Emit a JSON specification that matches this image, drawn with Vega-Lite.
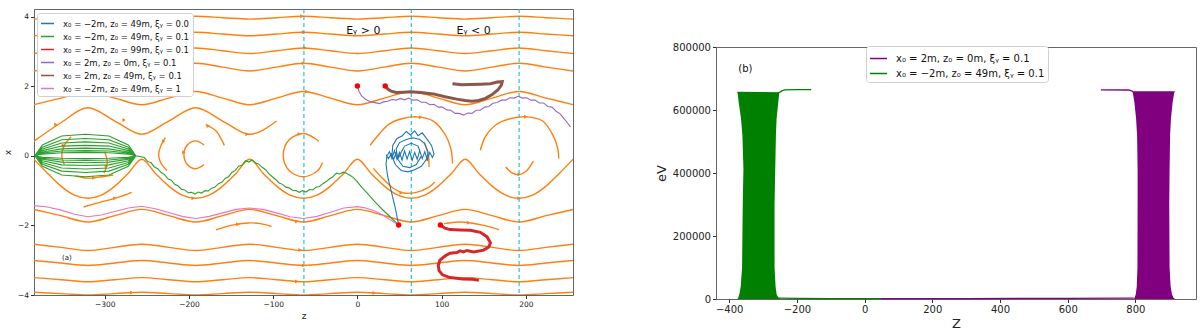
{
"$schema": "https://vega.github.io/schema/vega-lite/v6.json",
"padding": {"left": 2, "top": 7, "right": 5, "bottom": 0},
"spacing": 80,
"config": {
 "font": "DejaVu Sans",
 "view": {"stroke": "#666", "strokeWidth": 1},
 "axis": {"grid": false, "domain": false, "tickColor": "#333", "tickSize": 3.5, "labelColor": "#222", "titleColor": "#222", "titleFontWeight": "normal", "labelPadding": 2}
},
"resolve": {"scale": {"color": "independent"}, "legend": {"color": "independent"}},
"datasets": {
 "wav": [
  {"g":"U1","z":-384,"x":3.93},{"g":"U1","z":-352,"x":3.97},{"g":"U1","z":-320,"x":4.01},{"g":"U1","z":-288,"x":3.97},{"g":"U1","z":-256,"x":3.93},{"g":"U1","z":-224,"x":3.97},{"g":"U1","z":-192,"x":4.01},{"g":"U1","z":-160,"x":3.97},{"g":"U1","z":-128,"x":3.93},{"g":"U1","z":-96,"x":3.97},{"g":"U1","z":-64,"x":4.01},{"g":"U1","z":-32,"x":3.97},{"g":"U1","z":0,"x":3.93},{"g":"U1","z":32,"x":3.97},{"g":"U1","z":64,"x":4.01},{"g":"U1","z":96,"x":3.97},{"g":"U1","z":128,"x":3.93},{"g":"U1","z":160,"x":3.97},{"g":"U1","z":192,"x":4.01},{"g":"U1","z":224,"x":3.97},{"g":"U1","z":256,"x":3.93},
  {"g":"U2","z":-384,"x":3.45},{"g":"U2","z":-352,"x":3.5},{"g":"U2","z":-320,"x":3.55},{"g":"U2","z":-288,"x":3.5},{"g":"U2","z":-256,"x":3.45},{"g":"U2","z":-224,"x":3.5},{"g":"U2","z":-192,"x":3.55},{"g":"U2","z":-160,"x":3.5},{"g":"U2","z":-128,"x":3.45},{"g":"U2","z":-96,"x":3.5},{"g":"U2","z":-64,"x":3.55},{"g":"U2","z":-32,"x":3.5},{"g":"U2","z":0,"x":3.45},{"g":"U2","z":32,"x":3.5},{"g":"U2","z":64,"x":3.55},{"g":"U2","z":96,"x":3.5},{"g":"U2","z":128,"x":3.45},{"g":"U2","z":160,"x":3.5},{"g":"U2","z":192,"x":3.55},{"g":"U2","z":224,"x":3.5},{"g":"U2","z":256,"x":3.45},
  {"g":"U3","z":-384,"x":2.94},{"g":"U3","z":-352,"x":3.02},{"g":"U3","z":-320,"x":3.1},{"g":"U3","z":-288,"x":3.02},{"g":"U3","z":-256,"x":2.94},{"g":"U3","z":-224,"x":3.02},{"g":"U3","z":-192,"x":3.1},{"g":"U3","z":-160,"x":3.02},{"g":"U3","z":-128,"x":2.94},{"g":"U3","z":-96,"x":3.02},{"g":"U3","z":-64,"x":3.1},{"g":"U3","z":-32,"x":3.02},{"g":"U3","z":0,"x":2.94},{"g":"U3","z":32,"x":3.02},{"g":"U3","z":64,"x":3.1},{"g":"U3","z":96,"x":3.02},{"g":"U3","z":128,"x":2.94},{"g":"U3","z":160,"x":3.02},{"g":"U3","z":192,"x":3.1},{"g":"U3","z":224,"x":3.02},{"g":"U3","z":256,"x":2.94},
  {"g":"U4","z":-384,"x":2.44},{"g":"U4","z":-352,"x":2.55},{"g":"U4","z":-320,"x":2.66},{"g":"U4","z":-288,"x":2.55},{"g":"U4","z":-256,"x":2.44},{"g":"U4","z":-224,"x":2.55},{"g":"U4","z":-192,"x":2.66},{"g":"U4","z":-160,"x":2.55},{"g":"U4","z":-128,"x":2.44},{"g":"U4","z":-96,"x":2.55},{"g":"U4","z":-64,"x":2.66},{"g":"U4","z":-32,"x":2.55},{"g":"U4","z":0,"x":2.44},{"g":"U4","z":32,"x":2.55},{"g":"U4","z":64,"x":2.66},{"g":"U4","z":96,"x":2.55},{"g":"U4","z":128,"x":2.44},{"g":"U4","z":160,"x":2.55},{"g":"U4","z":192,"x":2.66},{"g":"U4","z":224,"x":2.55},{"g":"U4","z":256,"x":2.44},
  {"g":"U5","z":-384,"x":1.47},{"g":"U5","z":-352,"x":1.66},{"g":"U5","z":-320,"x":1.85},{"g":"U5","z":-288,"x":1.66},{"g":"U5","z":-256,"x":1.47},{"g":"U5","z":-224,"x":1.66},{"g":"U5","z":-192,"x":1.85},{"g":"U5","z":-160,"x":1.66},{"g":"U5","z":-128,"x":1.47},{"g":"U5","z":-96,"x":1.66},{"g":"U5","z":-64,"x":1.85},{"g":"U5","z":-32,"x":1.66},{"g":"U5","z":0,"x":1.47},{"g":"U5","z":32,"x":1.66},{"g":"U5","z":64,"x":1.85},{"g":"U5","z":96,"x":1.66},{"g":"U5","z":128,"x":1.47},{"g":"U5","z":160,"x":1.66},{"g":"U5","z":192,"x":1.85},{"g":"U5","z":224,"x":1.66},{"g":"U5","z":256,"x":1.47},
  {"g":"U6","z":-384,"x":0.42},{"g":"U6","z":-352,"x":0.95},{"g":"U6","z":-320,"x":1.38},{"g":"U6","z":-288,"x":1.0},{"g":"U6","z":-256,"x":0.62},{"g":"U6","z":-224,"x":1.0},{"g":"U6","z":-192,"x":1.38},{"g":"U6","z":-160,"x":1.0},{"g":"U6","z":-128,"x":0.62},{"g":"U6","z":-96,"x":1.0},
  {"g":"L2","z":-384,"x":-1.54},{"g":"L2","z":-352,"x":-1.72},{"g":"L2","z":-320,"x":-1.9},{"g":"L2","z":-288,"x":-1.72},{"g":"L2","z":-256,"x":-1.54},{"g":"L2","z":-224,"x":-1.72},{"g":"L2","z":-192,"x":-1.9},{"g":"L2","z":-160,"x":-1.72},{"g":"L2","z":-128,"x":-1.54},{"g":"L2","z":-96,"x":-1.72},{"g":"L2","z":-64,"x":-1.9},{"g":"L2","z":-32,"x":-1.72},{"g":"L2","z":0,"x":-1.54},{"g":"L2","z":32,"x":-1.72},{"g":"L2","z":64,"x":-1.9},{"g":"L2","z":96,"x":-1.72},{"g":"L2","z":128,"x":-1.54},{"g":"L2","z":160,"x":-1.72},{"g":"L2","z":192,"x":-1.9},{"g":"L2","z":224,"x":-1.72},{"g":"L2","z":256,"x":-1.54},
  {"g":"L3","z":-384,"x":-2.54},{"g":"L3","z":-352,"x":-2.63},{"g":"L3","z":-320,"x":-2.72},{"g":"L3","z":-288,"x":-2.63},{"g":"L3","z":-256,"x":-2.54},{"g":"L3","z":-224,"x":-2.63},{"g":"L3","z":-192,"x":-2.72},{"g":"L3","z":-160,"x":-2.63},{"g":"L3","z":-128,"x":-2.54},{"g":"L3","z":-96,"x":-2.63},{"g":"L3","z":-64,"x":-2.72},{"g":"L3","z":-32,"x":-2.63},{"g":"L3","z":0,"x":-2.54},{"g":"L3","z":32,"x":-2.63},{"g":"L3","z":64,"x":-2.72},{"g":"L3","z":96,"x":-2.63},{"g":"L3","z":128,"x":-2.54},{"g":"L3","z":160,"x":-2.63},{"g":"L3","z":192,"x":-2.72},{"g":"L3","z":224,"x":-2.63},{"g":"L3","z":256,"x":-2.54},
  {"g":"L4","z":-384,"x":-3.01},{"g":"L4","z":-352,"x":-3.08},{"g":"L4","z":-320,"x":-3.15},{"g":"L4","z":-288,"x":-3.08},{"g":"L4","z":-256,"x":-3.01},{"g":"L4","z":-224,"x":-3.08},{"g":"L4","z":-192,"x":-3.15},{"g":"L4","z":-160,"x":-3.08},{"g":"L4","z":-128,"x":-3.01},{"g":"L4","z":-96,"x":-3.08},{"g":"L4","z":-64,"x":-3.15},{"g":"L4","z":-32,"x":-3.08},{"g":"L4","z":0,"x":-3.01},{"g":"L4","z":32,"x":-3.08},{"g":"L4","z":64,"x":-3.15},{"g":"L4","z":96,"x":-3.08},{"g":"L4","z":128,"x":-3.01},{"g":"L4","z":160,"x":-3.08},{"g":"L4","z":192,"x":-3.15},{"g":"L4","z":224,"x":-3.08},{"g":"L4","z":256,"x":-3.01},
  {"g":"L5","z":-384,"x":-3.5},{"g":"L5","z":-352,"x":-3.56},{"g":"L5","z":-320,"x":-3.62},{"g":"L5","z":-288,"x":-3.56},{"g":"L5","z":-256,"x":-3.5},{"g":"L5","z":-224,"x":-3.56},{"g":"L5","z":-192,"x":-3.62},{"g":"L5","z":-160,"x":-3.56},{"g":"L5","z":-128,"x":-3.5},{"g":"L5","z":-96,"x":-3.56},{"g":"L5","z":-64,"x":-3.62},{"g":"L5","z":-32,"x":-3.56},{"g":"L5","z":0,"x":-3.5},{"g":"L5","z":32,"x":-3.56},{"g":"L5","z":64,"x":-3.62},{"g":"L5","z":96,"x":-3.56},{"g":"L5","z":128,"x":-3.5},{"g":"L5","z":160,"x":-3.56},{"g":"L5","z":192,"x":-3.62},{"g":"L5","z":224,"x":-3.56},{"g":"L5","z":256,"x":-3.5},
  {"g":"L6","z":-384,"x":-3.92},{"g":"L6","z":-352,"x":-3.96},{"g":"L6","z":-320,"x":-4.0},{"g":"L6","z":-288,"x":-3.96},{"g":"L6","z":-256,"x":-3.92},{"g":"L6","z":-224,"x":-3.96},{"g":"L6","z":-192,"x":-4.0},{"g":"L6","z":-160,"x":-3.96},{"g":"L6","z":-128,"x":-3.92},{"g":"L6","z":-96,"x":-3.96},{"g":"L6","z":-64,"x":-4.0},{"g":"L6","z":-32,"x":-3.96},{"g":"L6","z":0,"x":-3.92},{"g":"L6","z":32,"x":-3.96},{"g":"L6","z":64,"x":-4.0},{"g":"L6","z":96,"x":-3.96},{"g":"L6","z":128,"x":-3.92},{"g":"L6","z":160,"x":-3.96},{"g":"L6","z":192,"x":-4.0},{"g":"L6","z":224,"x":-3.96},{"g":"L6","z":256,"x":-3.92},
  {"g":"L1","z":-384,"x":-0.1},{"g":"L1","z":-368,"x":-0.5},{"g":"L1","z":-352,"x":-0.87},{"g":"L1","z":-336,"x":-1.13},{"g":"L1","z":-320,"x":-1.22},{"g":"L1","z":-304,"x":-1.13},{"g":"L1","z":-288,"x":-0.87},{"g":"L1","z":-272,"x":-0.5},{"g":"L1","z":-256,"x":-0.1},{"g":"L1","z":-240,"x":-0.5},{"g":"L1","z":-224,"x":-0.87},{"g":"L1","z":-208,"x":-1.13},{"g":"L1","z":-192,"x":-1.22},{"g":"L1","z":-176,"x":-1.13},{"g":"L1","z":-160,"x":-0.87},{"g":"L1","z":-144,"x":-0.5},{"g":"L1","z":-128,"x":-0.1},{"g":"L1","z":-112,"x":-0.5},{"g":"L1","z":-96,"x":-0.87},{"g":"L1","z":-80,"x":-1.13},{"g":"L1","z":-64,"x":-1.22},{"g":"L1","z":-48,"x":-1.13},{"g":"L1","z":-32,"x":-0.87},{"g":"L1","z":-16,"x":-0.5},{"g":"L1","z":0,"x":-0.1},{"g":"L1","z":16,"x":-0.5},{"g":"L1","z":32,"x":-0.87},{"g":"L1","z":48,"x":-1.13},{"g":"L1","z":64,"x":-1.22},{"g":"L1","z":80,"x":-1.13},{"g":"L1","z":96,"x":-0.87},{"g":"L1","z":112,"x":-0.5},{"g":"L1","z":128,"x":-0.1},{"g":"L1","z":144,"x":-0.5},{"g":"L1","z":160,"x":-0.87},{"g":"L1","z":176,"x":-1.13},{"g":"L1","z":192,"x":-1.22},{"g":"L1","z":208,"x":-1.13},{"g":"L1","z":224,"x":-0.87},{"g":"L1","z":240,"x":-0.5},{"g":"L1","z":256,"x":-0.1}
 ],
 "arc": [
  {"g":"A1","o":0,"z":-45.6,"x":0.42},{"g":"A1","o":1,"z":-64,"x":0.64},{"g":"A1","o":2,"z":-81,"x":0.46},{"g":"A1","o":3,"z":-88,"x":0.02},{"g":"A1","o":4,"z":-81,"x":-0.42},{"g":"A1","o":5,"z":-64,"x":-0.6},{"g":"A1","o":6,"z":-47,"x":-0.42},{"g":"A1","o":7,"z":-41.4,"x":-0.19},
  {"g":"A2","o":0,"z":-182,"x":0.31},{"g":"A2","o":1,"z":-192,"x":0.43},{"g":"A2","o":2,"z":-202,"x":0.31},{"g":"A2","o":3,"z":-206,"x":0.03},{"g":"A2","o":4,"z":-202,"x":-0.25},{"g":"A2","o":5,"z":-192,"x":-0.37},{"g":"A2","o":6,"z":-182,"x":-0.25},
  {"g":"A3","o":0,"z":-228,"x":0.52},{"g":"A3","o":1,"z":-234,"x":0.25},{"g":"A3","o":2,"z":-236,"x":0.0},{"g":"A3","o":3,"z":-233,"x":-0.22},{"g":"A3","o":4,"z":-226,"x":-0.42},
  {"g":"A4","o":0,"z":-180,"x":0.9},{"g":"A4","o":1,"z":-168,"x":0.72},{"g":"A4","o":2,"z":-161,"x":0.45},{"g":"A4","o":3,"z":-158,"x":0.3},
  {"g":"A5","o":0,"z":15,"x":0.3},{"g":"A5","o":1,"z":25,"x":0.6},{"g":"A5","o":2,"z":38,"x":0.92},{"g":"A5","o":3,"z":55,"x":1.08},{"g":"A5","o":4,"z":71,"x":1.12},{"g":"A5","o":5,"z":90,"x":1.0},{"g":"A5","o":6,"z":104,"x":0.62},{"g":"A5","o":7,"z":111,"x":0.2},{"g":"A5","o":8,"z":113,"x":-0.22},
  {"g":"A6","o":0,"z":19,"x":-0.36},{"g":"A6","o":1,"z":30,"x":-0.65},{"g":"A6","o":2,"z":43,"x":-0.94},{"g":"A6","o":3,"z":55,"x":-1.07},{"g":"A6","o":4,"z":70,"x":-1.05},{"g":"A6","o":5,"z":85,"x":-0.9},{"g":"A6","o":6,"z":92,"x":-0.75},
  {"g":"A7","o":0,"z":79,"x":0.4},{"g":"A7","o":1,"z":84,"x":0.05},{"g":"A7","o":2,"z":85,"x":-0.32},
  {"g":"A8","o":0,"z":146,"x":0.16},{"g":"A8","o":1,"z":152,"x":0.55},{"g":"A8","o":2,"z":165,"x":0.9},{"g":"A8","o":3,"z":184,"x":1.08},{"g":"A8","o":4,"z":201,"x":1.12},{"g":"A8","o":5,"z":220,"x":1.0},{"g":"A8","o":6,"z":232,"x":0.6},{"g":"A8","o":7,"z":238,"x":0.2},{"g":"A8","o":8,"z":239,"x":-0.08},
  {"g":"A9","o":0,"z":176,"x":-0.32},{"g":"A9","o":1,"z":183,"x":-0.48},{"g":"A9","o":2,"z":192,"x":-0.54},{"g":"A9","o":3,"z":200,"x":-0.45},{"g":"A9","o":4,"z":209,"x":-0.15},
  {"g":"A10","o":0,"z":-340,"x":0.55},{"g":"A10","o":1,"z":-348,"x":0.3},{"g":"A10","o":2,"z":-351,"x":0.0},{"g":"A10","o":3,"z":-348,"x":-0.25},
  {"g":"A11","o":0,"z":-300,"x":0.12},{"g":"A11","o":1,"z":-297,"x":-0.2},{"g":"A11","o":2,"z":-301,"x":-0.5},
  {"g":"A12","o":0,"z":-335,"x":-0.58},{"g":"A12","o":1,"z":-320,"x":-0.64},{"g":"A12","o":2,"z":-303,"x":-0.6},{"g":"A12","o":3,"z":-290,"x":-0.55},
  {"g":"S1","o":0,"z":-325,"x":-1.47},{"g":"S1","o":1,"z":-305,"x":-1.33},{"g":"S1","o":2,"z":-285,"x":-1.2},{"g":"S1","o":3,"z":-268,"x":-1.05},
  {"g":"S2","o":0,"z":-168,"x":-2.13},{"g":"S2","o":1,"z":-150,"x":-2.0},{"g":"S2","o":2,"z":-130,"x":-1.93},{"g":"S2","o":3,"z":-115,"x":-1.95},{"g":"S2","o":4,"z":-102,"x":-2.03},
  {"g":"S3","o":0,"z":103,"x":-1.95},{"g":"S3","o":1,"z":120,"x":-1.9},{"g":"S3","o":2,"z":135,"x":-1.93},{"g":"S3","o":3,"z":150,"x":-2.0},{"g":"S3","o":4,"z":168,"x":-2.12}
 ],
 "arrows": [
  {"z":-66,"x":4.01},{"z":-64,"x":3.55},{"z":-62,"x":3.1},{"z":-64,"x":2.66},{"z":-60,"x":1.84},{"z":-277,"x":1.03},{"z":-131,"x":0.62},{"z":-358,"x":0.9},
  {"z":-230,"x":0.42},{"z":-206,"x":0.1},{"z":-177,"x":0.86},{"z":-69,"x":0.63},{"z":75,"x":1.11},{"z":84,"x":-0.1},{"z":52,"x":-1.06},{"z":200,"x":1.12},{"z":192,"x":-0.54},
  {"z":-349,"x":0.3},{"z":-298,"x":-0.3},{"z":-313,"x":-0.63},{"z":-195,"x":-1.22},{"z":-288,"x":-1.22},{"z":-72,"x":-1.89},{"z":-68,"x":-2.71},{"z":-64,"x":-3.15},{"z":-72,"x":-3.61},{"z":-268,"x":-3.93},{"z":20,"x":-3.94},{"z":-142,"x":-1.97},{"z":132,"x":-1.92},{"z":192,"x":-1.22}
 ],
 "traj": [
  {"s":"b","o":0,"z":49,"x":-1.99},{"s":"b","o":1,"z":45,"x":-1.5},{"s":"b","o":2,"z":40,"x":-1.0},{"s":"b","o":3,"z":36,"x":-0.6},{"s":"b","o":4,"z":34,"x":-0.25},{"s":"b","o":5,"z":35,"x":0.0},{"s":"b","o":6,"z":38,"x":0.12},{"s":"b","o":7,"z":41,"x":-0.08},{"s":"b","o":8,"z":44,"x":0.15},{"s":"b","o":9,"z":47,"x":-0.1},{"s":"b","o":10,"z":50,"x":0.1},{"s":"b","o":11,"z":53,"x":-0.12},{"s":"b","o":12,"z":56,"x":0.14},{"s":"b","o":13,"z":59,"x":-0.09},{"s":"b","o":14,"z":62,"x":0.12},{"s":"b","o":15,"z":65,"x":-0.13},{"s":"b","o":16,"z":68,"x":0.1},{"s":"b","o":17,"z":71,"x":-0.1},{"s":"b","o":18,"z":74,"x":0.15},{"s":"b","o":19,"z":77,"x":-0.08},{"s":"b","o":20,"z":80,"x":0.12},{"s":"b","o":21,"z":83,"x":-0.12},{"s":"b","o":22,"z":86,"x":0.1},{"s":"b","o":23,"z":89,"x":-0.05},{"s":"b","o":24,"z":91,"x":0.05},{"s":"b","o":25,"z":88,"x":0.3},{"s":"b","o":26,"z":82,"x":0.5},{"s":"b","o":27,"z":77,"x":0.66},{"s":"b","o":28,"z":72,"x":0.58},{"s":"b","o":29,"z":68,"x":0.72},{"s":"b","o":30,"z":63,"x":0.6},{"s":"b","o":31,"z":58,"x":0.7},{"s":"b","o":32,"z":53,"x":0.57},{"s":"b","o":33,"z":47,"x":0.5},{"s":"b","o":34,"z":42,"x":0.3},{"s":"b","o":35,"z":41,"x":0.0},{"s":"b","o":36,"z":45,"x":-0.25},{"s":"b","o":37,"z":52,"x":-0.42},{"s":"b","o":38,"z":60,"x":-0.46},{"s":"b","o":39,"z":68,"x":-0.4},{"s":"b","o":40,"z":76,"x":-0.3},{"s":"b","o":41,"z":82,"x":-0.1},{"s":"b","o":42,"z":84,"x":0.1},{"s":"b","o":43,"z":80,"x":0.35},{"s":"b","o":44,"z":74,"x":0.47},{"s":"b","o":45,"z":66,"x":0.52},{"s":"b","o":46,"z":58,"x":0.47},{"s":"b","o":47,"z":50,"x":0.38},{"s":"b","o":48,"z":46,"x":0.2},{"s":"b","o":49,"z":48,"x":-0.1},{"s":"b","o":50,"z":54,"x":-0.3},{"s":"b","o":51,"z":62,"x":-0.34},{"s":"b","o":52,"z":70,"x":-0.25},{"s":"b","o":53,"z":76,"x":0.0},{"s":"b","o":54,"z":72,"x":0.28},{"s":"b","o":55,"z":64,"x":0.36},{"s":"b","o":56,"z":56,"x":0.28},{"s":"b","o":57,"z":52,"x":0.1},{"s":"b","o":58,"z":49,"x":-0.05},{"s":"b","o":59,"z":46,"x":0.08},{"s":"b","o":60,"z":43,"x":-0.1},{"s":"b","o":61,"z":40,"x":0.06},{"s":"b","o":62,"z":37,"x":-0.08},{"s":"b","o":63,"z":34,"x":0.03},
  {"s":"g","o":0,"z":49,"x":-1.99},{"s":"g","o":1,"z":40,"x":-1.78},{"s":"g","o":2,"z":30,"x":-1.55},{"s":"g","o":3,"z":20,"x":-1.3},{"s":"g","o":4,"z":12,"x":-1.08},{"s":"g","o":5,"z":5,"x":-0.9},{"s":"g","o":6,"z":0,"x":-0.75},{"s":"g","o":7,"z":-5,"x":-0.62},{"s":"g","o":8,"z":-9,"x":-0.56},{"s":"g","o":9,"z":-13,"x":-0.5},{"s":"g","o":10,"z":-17,"x":-0.47},{"s":"g","o":11,"z":-21,"x":-0.52},{"s":"g","o":12,"z":-25,"x":-0.5},{"s":"g","o":13,"z":-29,"x":-0.6},{"s":"g","o":14,"z":-33,"x":-0.66},{"s":"g","o":15,"z":-37,"x":-0.74},{"s":"g","o":16,"z":-41,"x":-0.8},{"s":"g","o":17,"z":-45,"x":-0.88},{"s":"g","o":18,"z":-49,"x":-0.9},{"s":"g","o":19,"z":-53,"x":-0.98},{"s":"g","o":20,"z":-57,"x":-0.97},{"s":"g","o":21,"z":-61,"x":-1.04},{"s":"g","o":22,"z":-65,"x":-1.0},{"s":"g","o":23,"z":-69,"x":-1.05},{"s":"g","o":24,"z":-73,"x":-1.0},{"s":"g","o":25,"z":-77,"x":-0.99},{"s":"g","o":26,"z":-81,"x":-0.92},{"s":"g","o":27,"z":-85,"x":-0.9},{"s":"g","o":28,"z":-89,"x":-0.82},{"s":"g","o":29,"z":-93,"x":-0.78},{"s":"g","o":30,"z":-97,"x":-0.68},{"s":"g","o":31,"z":-101,"x":-0.6},{"s":"g","o":32,"z":-105,"x":-0.52},{"s":"g","o":33,"z":-109,"x":-0.4},{"s":"g","o":34,"z":-113,"x":-0.33},{"s":"g","o":35,"z":-117,"x":-0.24},{"s":"g","o":36,"z":-121,"x":-0.2},{"s":"g","o":37,"z":-125,"x":-0.12},{"s":"g","o":38,"z":-129,"x":-0.18},{"s":"g","o":39,"z":-133,"x":-0.14},{"s":"g","o":40,"z":-137,"x":-0.27},{"s":"g","o":41,"z":-141,"x":-0.3},{"s":"g","o":42,"z":-145,"x":-0.42},{"s":"g","o":43,"z":-149,"x":-0.48},{"s":"g","o":44,"z":-153,"x":-0.6},{"s":"g","o":45,"z":-157,"x":-0.65},{"s":"g","o":46,"z":-161,"x":-0.76},{"s":"g","o":47,"z":-165,"x":-0.8},{"s":"g","o":48,"z":-169,"x":-0.9},{"s":"g","o":49,"z":-173,"x":-0.93},{"s":"g","o":50,"z":-177,"x":-1.01},{"s":"g","o":51,"z":-181,"x":-1.0},{"s":"g","o":52,"z":-185,"x":-1.07},{"s":"g","o":53,"z":-189,"x":-1.04},{"s":"g","o":54,"z":-193,"x":-1.1},{"s":"g","o":55,"z":-197,"x":-1.05},{"s":"g","o":56,"z":-201,"x":-1.06},{"s":"g","o":57,"z":-205,"x":-0.98},{"s":"g","o":58,"z":-209,"x":-0.96},{"s":"g","o":59,"z":-213,"x":-0.86},{"s":"g","o":60,"z":-217,"x":-0.82},{"s":"g","o":61,"z":-221,"x":-0.7},{"s":"g","o":62,"z":-225,"x":-0.66},{"s":"g","o":63,"z":-229,"x":-0.54},{"s":"g","o":64,"z":-233,"x":-0.48},{"s":"g","o":65,"z":-237,"x":-0.37},{"s":"g","o":66,"z":-241,"x":-0.32},{"s":"g","o":67,"z":-245,"x":-0.2},{"s":"g","o":68,"z":-249,"x":-0.16},{"s":"g","o":69,"z":-253,"x":-0.05},{"s":"g","o":70,"z":-258,"x":-0.02},{"s":"g","o":71,"z":-263,"x":0.0},
  {"s":"g","o":72,"z":-272,"x":0.31},{"s":"g","o":73,"z":-295,"x":0.57},{"s":"g","o":74,"z":-323,"x":0.62},{"s":"g","o":75,"z":-351,"x":0.57},{"s":"g","o":76,"z":-374,"x":0.31},{"s":"g","o":77,"z":-383,"x":0.0},{"s":"g","o":78,"z":-374,"x":-0.3},{"s":"g","o":79,"z":-351,"x":-0.55},{"s":"g","o":80,"z":-323,"x":-0.6},{"s":"g","o":81,"z":-295,"x":-0.55},{"s":"g","o":82,"z":-272,"x":-0.3},{"s":"g","o":83,"z":-263,"x":0.0},
  {"s":"g","o":84,"z":-272,"x":0.25},{"s":"g","o":85,"z":-295,"x":0.46},{"s":"g","o":86,"z":-323,"x":0.5},{"s":"g","o":87,"z":-351,"x":0.46},{"s":"g","o":88,"z":-374,"x":0.25},{"s":"g","o":89,"z":-383,"x":0.0},{"s":"g","o":90,"z":-374,"x":-0.24},{"s":"g","o":91,"z":-351,"x":-0.44},{"s":"g","o":92,"z":-323,"x":-0.48},{"s":"g","o":93,"z":-295,"x":-0.44},{"s":"g","o":94,"z":-272,"x":-0.24},{"s":"g","o":95,"z":-263,"x":0.0},
  {"s":"g","o":96,"z":-272,"x":0.2},{"s":"g","o":97,"z":-295,"x":0.37},{"s":"g","o":98,"z":-323,"x":0.4},{"s":"g","o":99,"z":-351,"x":0.37},{"s":"g","o":100,"z":-374,"x":0.2},{"s":"g","o":101,"z":-383,"x":0.0},{"s":"g","o":102,"z":-374,"x":-0.19},{"s":"g","o":103,"z":-351,"x":-0.35},{"s":"g","o":104,"z":-323,"x":-0.38},{"s":"g","o":105,"z":-295,"x":-0.35},{"s":"g","o":106,"z":-272,"x":-0.19},{"s":"g","o":107,"z":-263,"x":0.0},
  {"s":"g","o":108,"z":-272,"x":0.15},{"s":"g","o":109,"z":-295,"x":0.28},{"s":"g","o":110,"z":-323,"x":0.3},{"s":"g","o":111,"z":-351,"x":0.28},{"s":"g","o":112,"z":-374,"x":0.15},{"s":"g","o":113,"z":-383,"x":0.0},{"s":"g","o":114,"z":-374,"x":-0.14},{"s":"g","o":115,"z":-351,"x":-0.26},{"s":"g","o":116,"z":-323,"x":-0.28},{"s":"g","o":117,"z":-295,"x":-0.26},{"s":"g","o":118,"z":-272,"x":-0.14},{"s":"g","o":119,"z":-263,"x":0.0},
  {"s":"g","o":120,"z":-272,"x":0.11},{"s":"g","o":121,"z":-295,"x":0.2},{"s":"g","o":122,"z":-323,"x":0.22},{"s":"g","o":123,"z":-351,"x":0.2},{"s":"g","o":124,"z":-374,"x":0.11},{"s":"g","o":125,"z":-383,"x":0.0},{"s":"g","o":126,"z":-374,"x":-0.1},{"s":"g","o":127,"z":-351,"x":-0.18},{"s":"g","o":128,"z":-323,"x":-0.2},{"s":"g","o":129,"z":-295,"x":-0.18},{"s":"g","o":130,"z":-272,"x":-0.1},{"s":"g","o":131,"z":-263,"x":0.0},
  {"s":"g","o":132,"z":-272,"x":0.08},{"s":"g","o":133,"z":-295,"x":0.14},{"s":"g","o":134,"z":-323,"x":0.15},{"s":"g","o":135,"z":-351,"x":0.14},{"s":"g","o":136,"z":-374,"x":0.08},{"s":"g","o":137,"z":-383,"x":0.0},{"s":"g","o":138,"z":-374,"x":-0.07},{"s":"g","o":139,"z":-351,"x":-0.12},{"s":"g","o":140,"z":-323,"x":-0.13},{"s":"g","o":141,"z":-295,"x":-0.12},{"s":"g","o":142,"z":-272,"x":-0.07},{"s":"g","o":143,"z":-263,"x":0.0},
  {"s":"g","o":144,"z":-272,"x":0.05},{"s":"g","o":145,"z":-295,"x":0.09},{"s":"g","o":146,"z":-323,"x":0.1},{"s":"g","o":147,"z":-351,"x":0.09},{"s":"g","o":148,"z":-374,"x":0.05},{"s":"g","o":149,"z":-383,"x":0.0},{"s":"g","o":150,"z":-374,"x":-0.04},{"s":"g","o":151,"z":-351,"x":-0.07},{"s":"g","o":152,"z":-323,"x":-0.08},{"s":"g","o":153,"z":-295,"x":-0.07},{"s":"g","o":154,"z":-272,"x":-0.04},{"s":"g","o":155,"z":-263,"x":0.0},
  {"s":"r","o":0,"z":98.5,"x":-1.99},{"s":"r","o":1,"z":104,"x":-2.08},{"s":"r","o":2,"z":110,"x":-2.12},{"s":"r","o":3,"z":122,"x":-2.13},{"s":"r","o":4,"z":134,"x":-2.14},{"s":"r","o":5,"z":146,"x":-2.2},{"s":"r","o":6,"z":154,"x":-2.33},{"s":"r","o":7,"z":158,"x":-2.5},{"s":"r","o":8,"z":156,"x":-2.62},{"s":"r","o":9,"z":150,"x":-2.71},{"s":"r","o":10,"z":138,"x":-2.76},{"s":"r","o":11,"z":130,"x":-2.72},{"s":"r","o":12,"z":126,"x":-2.76},{"s":"r","o":13,"z":122,"x":-2.73},{"s":"r","o":14,"z":118,"x":-2.78},{"s":"r","o":15,"z":110,"x":-2.8},{"s":"r","o":16,"z":104,"x":-2.88},{"s":"r","o":17,"z":98,"x":-3.0},{"s":"r","o":18,"z":96,"x":-3.15},{"s":"r","o":19,"z":97,"x":-3.3},{"s":"r","o":20,"z":101,"x":-3.42},{"s":"r","o":21,"z":110,"x":-3.5},{"s":"r","o":22,"z":125,"x":-3.54},{"s":"r","o":23,"z":137,"x":-3.55},{"s":"r","o":24,"z":144,"x":-3.58},
  {"s":"p","o":0,"z":0,"x":2.01},{"s":"p","o":1,"z":2,"x":1.85},{"s":"p","o":2,"z":5,"x":1.72},{"s":"p","o":3,"z":10,"x":1.62},{"s":"p","o":4,"z":16,"x":1.55},{"s":"p","o":5,"z":21,"x":1.53},{"s":"p","o":6,"z":26,"x":1.5},{"s":"p","o":7,"z":31,"x":1.55},{"s":"p","o":8,"z":36,"x":1.57},{"s":"p","o":9,"z":41,"x":1.62},{"s":"p","o":10,"z":46,"x":1.6},{"s":"p","o":11,"z":51,"x":1.65},{"s":"p","o":12,"z":56,"x":1.61},{"s":"p","o":13,"z":61,"x":1.66},{"s":"p","o":14,"z":66,"x":1.6},{"s":"p","o":15,"z":71,"x":1.61},{"s":"p","o":16,"z":76,"x":1.54},{"s":"p","o":17,"z":81,"x":1.54},{"s":"p","o":18,"z":86,"x":1.47},{"s":"p","o":19,"z":91,"x":1.48},{"s":"p","o":20,"z":96,"x":1.4},{"s":"p","o":21,"z":101,"x":1.4},{"s":"p","o":22,"z":106,"x":1.32},{"s":"p","o":23,"z":111,"x":1.31},{"s":"p","o":24,"z":116,"x":1.22},{"s":"p","o":25,"z":121,"x":1.22},{"s":"p","o":26,"z":126,"x":1.17},{"s":"p","o":27,"z":131,"x":1.23},{"s":"p","o":28,"z":136,"x":1.22},{"s":"p","o":29,"z":141,"x":1.31},{"s":"p","o":30,"z":146,"x":1.31},{"s":"p","o":31,"z":151,"x":1.4},{"s":"p","o":32,"z":156,"x":1.42},{"s":"p","o":33,"z":161,"x":1.51},{"s":"p","o":34,"z":166,"x":1.53},{"s":"p","o":35,"z":171,"x":1.6},{"s":"p","o":36,"z":176,"x":1.6},{"s":"p","o":37,"z":181,"x":1.67},{"s":"p","o":38,"z":186,"x":1.66},{"s":"p","o":39,"z":191,"x":1.71},{"s":"p","o":40,"z":196,"x":1.66},{"s":"p","o":41,"z":201,"x":1.67},{"s":"p","o":42,"z":206,"x":1.6},{"s":"p","o":43,"z":211,"x":1.6},{"s":"p","o":44,"z":216,"x":1.52},{"s":"p","o":45,"z":221,"x":1.52},{"s":"p","o":46,"z":226,"x":1.42},{"s":"p","o":47,"z":231,"x":1.4},{"s":"p","o":48,"z":236,"x":1.28},{"s":"p","o":49,"z":241,"x":1.2},{"s":"p","o":50,"z":246,"x":1.05},{"s":"p","o":51,"z":250,"x":0.93},{"s":"p","o":52,"z":253,"x":0.83},
  {"s":"n","o":0,"z":33,"x":2.01},{"s":"n","o":1,"z":36,"x":1.92},{"s":"n","o":2,"z":40,"x":1.86},{"s":"n","o":3,"z":46,"x":1.82},{"s":"n","o":4,"z":55,"x":1.83},{"s":"n","o":5,"z":63,"x":1.84},{"s":"n","o":6,"z":75,"x":1.82},{"s":"n","o":7,"z":90,"x":1.78},{"s":"n","o":8,"z":104,"x":1.7},{"s":"n","o":9,"z":118,"x":1.63},{"s":"n","o":10,"z":128,"x":1.59},{"s":"n","o":11,"z":136,"x":1.57},{"s":"n","o":12,"z":144,"x":1.59},{"s":"n","o":13,"z":152,"x":1.65},{"s":"n","o":14,"z":160,"x":1.76},{"s":"n","o":15,"z":167,"x":1.9},{"s":"n","o":16,"z":171,"x":2.03},{"s":"n","o":17,"z":172,"x":2.13},{"s":"n","o":18,"z":166,"x":2.12},{"s":"n","o":19,"z":158,"x":2.07},{"s":"n","o":20,"z":146,"x":2.06},{"s":"n","o":21,"z":134,"x":2.05},{"s":"n","o":22,"z":124,"x":2.04},{"s":"n","o":23,"z":113,"x":2.07},
  {"s":"k","o":0,"z":49,"x":-1.99},{"s":"k","o":1,"z":40,"x":-1.85},{"s":"k","o":2,"z":30,"x":-1.7},{"s":"k","o":3,"z":20,"x":-1.58},{"s":"k","o":4,"z":10,"x":-1.5},{"s":"k","o":5,"z":0,"x":-1.46},{"s":"k","o":6,"z":-16,"x":-1.5},{"s":"k","o":7,"z":-32,"x":-1.62},{"s":"k","o":8,"z":-48,"x":-1.74},{"s":"k","o":9,"z":-64,"x":-1.8},{"s":"k","o":10,"z":-80,"x":-1.75},{"s":"k","o":11,"z":-96,"x":-1.64},{"s":"k","o":12,"z":-112,"x":-1.54},{"s":"k","o":13,"z":-128,"x":-1.5},{"s":"k","o":14,"z":-144,"x":-1.54},{"s":"k","o":15,"z":-160,"x":-1.64},{"s":"k","o":16,"z":-176,"x":-1.74},{"s":"k","o":17,"z":-192,"x":-1.8},{"s":"k","o":18,"z":-208,"x":-1.74},{"s":"k","o":19,"z":-224,"x":-1.63},{"s":"k","o":20,"z":-240,"x":-1.52},{"s":"k","o":21,"z":-256,"x":-1.45},{"s":"k","o":22,"z":-272,"x":-1.5},{"s":"k","o":23,"z":-288,"x":-1.6},{"s":"k","o":24,"z":-304,"x":-1.7},{"s":"k","o":25,"z":-320,"x":-1.75},{"s":"k","o":26,"z":-336,"x":-1.68},{"s":"k","o":27,"z":-352,"x":-1.56},{"s":"k","o":28,"z":-368,"x":-1.47},{"s":"k","o":29,"z":-384,"x":-1.43}
 ],
 "dots": [{"z":0,"x":2.01},{"z":33,"x":2.01},{"z":49,"x":-1.99},{"z":98.5,"x":-1.99}],
 "vl": [{"z":-63.5},{"z":64},{"z":192}],
 "areaG": [{"e":0,"l":-376,"r":-248},{"e":5000,"l":-373,"r":-255},{"e":15000,"l":-370,"r":-260},{"e":40000,"l":-366,"r":-263},{"e":100000,"l":-362,"r":-266},{"e":300000,"l":-360,"r":-266},{"e":413000,"l":-358,"r":-264},{"e":519000,"l":-361,"r":-262},{"e":572000,"l":-365,"r":-260},{"e":625000,"l":-372,"r":-255},{"e":655000,"l":-375,"r":-252}],
 "areaP": [{"e":0,"l":795,"r":917},{"e":5000,"l":798,"r":912},{"e":15000,"l":801,"r":908},{"e":40000,"l":804,"r":904},{"e":100000,"l":806,"r":901},{"e":300000,"l":806.5,"r":900},{"e":413000,"l":806.5,"r":901},{"e":519000,"l":805,"r":902.5},{"e":572000,"l":802,"r":905},{"e":625000,"l":797,"r":910},{"e":657000,"l":792,"r":915}],
 "eline": [
  {"s":"G","o":0,"z":-376,"e":655500},{"s":"G","o":1,"z":-256,"e":654500},{"s":"G","o":2,"z":-250,"e":657000},{"s":"G","o":3,"z":-243,"e":661500},{"s":"G","o":4,"z":-235,"e":664000},{"s":"G","o":5,"z":-200,"e":664500},{"s":"G","o":6,"z":-158,"e":664500},
  {"s":"G2","o":0,"z":-255,"e":3000},{"s":"G2","o":1,"z":-200,"e":2000},{"s":"G2","o":2,"z":-100,"e":1500},{"s":"G2","o":3,"z":0,"e":1500},{"s":"G2","o":4,"z":55,"e":1500},
  {"s":"P","o":0,"z":698,"e":664000},{"s":"P","o":1,"z":780,"e":663500},{"s":"P","o":2,"z":788,"e":661000},{"s":"P","o":3,"z":794,"e":657500},{"s":"P","o":4,"z":916,"e":657500},
  {"s":"P2","o":0,"z":48,"e":1500},{"s":"P2","o":1,"z":300,"e":1500},{"s":"P2","o":2,"z":600,"e":2000},{"s":"P2","o":3,"z":780,"e":3000},{"s":"P2","o":4,"z":795,"e":3000}
 ]
},
"hconcat": [
 {
  "width": 539, "height": 286,
  "layer": [
   {"data": {"name": "wav"}, "mark": {"type": "line", "color": "#ff7f0e", "strokeWidth": 1.4, "interpolate": "monotone", "clip": true},
    "encoding": {"x": {"field": "z", "type": "quantitative", "scale": {"domain": [-384, 256], "nice": false, "zero": false}, "axis": {"values": [-300,-200,-100,0,100,200], "title": "z", "labelFontSize": 7.5, "titleFontSize": 9, "titlePadding": 3}},
                 "y": {"field": "x", "type": "quantitative", "scale": {"domain": [-4, 4.22], "nice": false, "zero": false}, "axis": {"values": [-4,-3,-2,-1,0,1,2,3,4], "title": "x", "labelFontSize": 7.5, "titleFontSize": 9, "titlePadding": 5}},
                 "detail": {"field": "g"}}},
   {"data": {"name": "arc"}, "mark": {"type": "line", "color": "#ff7f0e", "strokeWidth": 1.4, "interpolate": "catmull-rom", "clip": true},
    "encoding": {"x": {"field": "z", "type": "quantitative", "title": "z"}, "y": {"field": "x", "type": "quantitative", "title": "x"}, "detail": {"field": "g"}, "order": {"field": "o"}}},
   {"data": {"name": "arrows"}, "mark": {"type": "point", "shape": "triangle-right", "filled": true, "color": "#ff7f0e", "size": 16, "opacity": 1},
    "encoding": {"x": {"field": "z", "type": "quantitative", "title": "z"}, "y": {"field": "x", "type": "quantitative", "title": "x"}}},
   {"data": {"name": "vl"}, "mark": {"type": "rule", "stroke": "#17becf", "color": "#17becf", "opacity": 1, "strokeDash": [4, 3], "strokeWidth": 1.1},
    "encoding": {"x": {"field": "z", "type": "quantitative", "title": "z"}}},
   {"data": {"name": "traj"}, "mark": {"type": "line", "strokeWidth": 1.1, "clip": true},
    "encoding": {"x": {"field": "z", "type": "quantitative", "title": "z"}, "y": {"field": "x", "type": "quantitative", "title": "x"}, "order": {"field": "o"},
                 "color": {"field": "s", "type": "nominal", "scale": {"domain": ["b","g","r","p","n","k"], "range": ["#1f77b4","#2ca02c","#d62728","#9467bd","#8c564b","#e377c2"]},
                   "legend": {"orient": "none", "legendX": 3, "legendY": 4, "title": null, "symbolType": "stroke", "symbolStrokeWidth": 1.5, "symbolSize": 169, "labelFontSize": 8.5, "labelColor": "#111", "strokeColor": "#d0d0d0", "fillColor": "white", "padding": 3, "rowPadding": 1, "cornerRadius": 3, "labelOffset": 8,
                     "labelExpr": "datum.value == 'b' ? 'x₀ = −2m, z₀ = 49m, ξᵧ = 0.0' : datum.value == 'g' ? 'x₀ = −2m, z₀ = 49m, ξᵧ = 0.1' : datum.value == 'r' ? 'x₀ = −2m, z₀ = 99m, ξᵧ = 0.1' : datum.value == 'p' ? 'x₀ = 2m, z₀ = 0m, ξᵧ = 0.1' : datum.value == 'n' ? 'x₀ = 2m, z₀ = 49m, ξᵧ = 0.1' : 'x₀ = −2m, z₀ = 49m, ξᵧ = 1'"}}}},
   {"data": {"name": "traj"}, "transform": [{"filter": "datum.s == 'r' || datum.s == 'n'"}], "mark": {"type": "line", "strokeWidth": 3, "clip": true},
    "encoding": {"x": {"field": "z", "type": "quantitative", "title": "z"}, "y": {"field": "x", "type": "quantitative", "title": "x"}, "order": {"field": "o"},
                 "color": {"field": "s", "type": "nominal", "legend": null}}},
   {"data": {"name": "dots"}, "mark": {"type": "point", "filled": true, "color": "#ff0000", "size": 30, "opacity": 1},
    "encoding": {"x": {"field": "z", "type": "quantitative", "title": "z"}, "y": {"field": "x", "type": "quantitative", "title": "x"}}},
   {"data": {"values": [{"t": "Eᵧ > 0", "z": 7, "x": 3.6}, {"t": "Eᵧ < 0", "z": 138, "x": 3.6}]}, "mark": {"type": "text", "fontSize": 11, "color": "#111"},
    "encoding": {"x": {"field": "z", "type": "quantitative", "title": "z"}, "y": {"field": "x", "type": "quantitative", "title": "x"}, "text": {"field": "t"}}},
   {"data": {"values": [{"t": "(a)", "z": -345, "x": -2.95}]}, "mark": {"type": "text", "fontSize": 7, "color": "#111"},
    "encoding": {"x": {"field": "z", "type": "quantitative", "title": "z"}, "y": {"field": "x", "type": "quantitative", "title": "x"}, "text": {"field": "t"}}}
  ]
 },
 {
  "spacing": 0,
  "vconcat": [
   {"width": 480, "height": 32, "view": {"stroke": null}, "data": {"values": [{"a": 1}]}, "mark": {"type": "point", "opacity": 0}, "encoding": {}},
   {
    "width": 480, "height": 252,
    "layer": [
     {"data": {"name": "areaG"}, "mark": {"type": "area", "orient": "horizontal", "color": "#008000", "opacity": 1},
      "encoding": {"y": {"field": "e", "type": "quantitative", "scale": {"domain": [0, 800000], "nice": false, "zero": false}, "axis": {"values": [0,100000,200000,300000,400000,500000,600000,700000,800000], "format": "d", "title": "eV", "labelFontSize": 10, "titleFontSize": 13, "titlePadding": 4}},
                   "x": {"field": "l", "type": "quantitative", "scale": {"domain": [-439, 979], "nice": false, "zero": false}, "axis": {"values": [-400,-200,0,200,400,600,800], "title": "Z", "labelFontSize": 10, "titleFontSize": 13, "titlePadding": 3}},
                   "x2": {"field": "r"}}},
     {"data": {"name": "areaP"}, "mark": {"type": "area", "orient": "horizontal", "color": "#800080", "opacity": 1},
      "encoding": {"y": {"field": "e", "type": "quantitative", "title": "eV"}, "x": {"field": "l", "type": "quantitative", "title": "Z"}, "x2": {"field": "r"}}},
     {"data": {"name": "eline"}, "mark": {"type": "line", "strokeWidth": 1.3},
      "encoding": {"x": {"field": "z", "type": "quantitative", "title": "Z"}, "y": {"field": "e", "type": "quantitative", "title": "eV"}, "order": {"field": "o"}, "detail": {"field": "s"},
                   "color": {"field": "s", "type": "nominal", "scale": {"domain": ["P","G","G2","P2"], "range": ["#800080","#008000","#008000","#800080"]},
                     "legend": {"values": ["P","G"], "orient": "none", "legendX": 150, "legendY": 37, "title": null, "symbolType": "stroke", "symbolStrokeWidth": 1.5, "symbolSize": 289, "labelFontSize": 10, "labelColor": "#111", "strokeColor": "#d0d0d0", "fillColor": "white", "padding": 3, "rowPadding": 0, "cornerRadius": 3, "labelOffset": 8,
                       "labelExpr": "datum.value == 'P' ? 'x₀ = 2m, z₀ = 0m, ξᵧ = 0.1' : 'x₀ = −2m, z₀ = 49m, ξᵧ = 0.1'"}}}},
     {"data": {"values": [{"t": "(b)", "z": -352, "e": 731000}]}, "mark": {"type": "text", "fontSize": 10, "color": "#111"},
      "encoding": {"x": {"field": "z", "type": "quantitative", "title": "Z"}, "y": {"field": "e", "type": "quantitative", "title": "eV"}, "text": {"field": "t"}}}
    ]
   }
  ]
 }
]
}
